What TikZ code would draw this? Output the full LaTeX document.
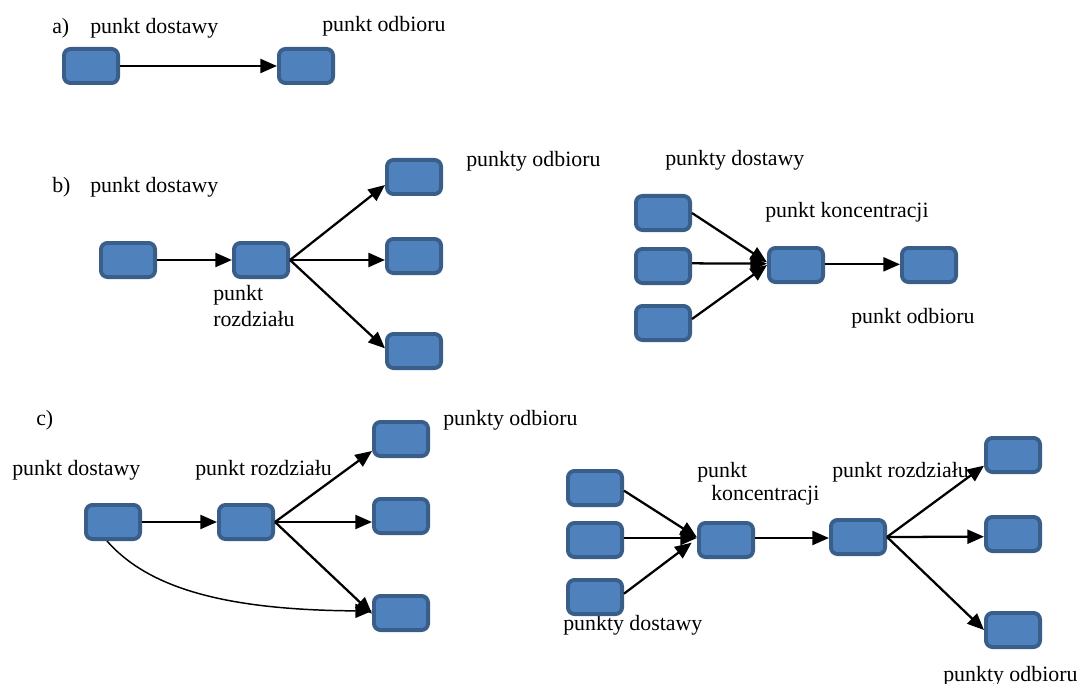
\documentclass[tikz,border=0pt]{standalone}
\usepackage{fontspec}
\setmainfont{Liberation Serif}
\usetikzlibrary{arrows.meta}
\definecolor{boxfill}{RGB}{79,129,189}
\definecolor{boxborder}{RGB}{58,94,138}
\newcommand{\labfont}{\fontsize{16.4}{19}\selectfont}
\tikzset{
  box/.style={draw=boxborder, fill=boxfill, line width=2.9pt, rounded corners=5pt,
    minimum width=40.6pt, minimum height=25.6pt, inner sep=0pt},
  lab/.style={anchor=west, inner sep=0pt, font=\labfont, text=black},
  arr/.style={-{Triangle[length=12.5pt,width=10.5pt]}, line width=1.7pt},
  arrthin/.style={-{Triangle[length=12.5pt,width=10.5pt]}, line width=1.1pt}
}
\begin{document}
\begin{tikzpicture}[x=0.75pt,y=-0.75pt]
\useasboundingbox (0,0) rectangle (1080,684);
% ---- a)
\node[lab] (la) at (52,28) {a)};
\node[lab] (la1) at (90,28) {punkt dostawy};
\node[lab] (la2) at (322,26) {punkt odbioru};
\node[box] (a1) at (91,66) {};
\node[box] (a2) at (306,66) {};
\draw[arr] (a1.east) -- (a2.west);
% ---- b) left
\node[lab] (lb) at (52,187) {b)};
\node[lab] (lb1) at (90,187) {punkt dostawy};
\node[lab] (lb2) at (466,161) {punkty odbioru};
\node[lab, align=left] (lb3) at (213,306) {punkt\\rozdziału};
\node[box] (bs) at (128,260) {};
\node[box] (br) at (261,260) {};
\node[box] (bt1) at (414,177) {};
\node[box] (bt2) at (414,256) {};
\node[box] (bt3) at (414,351) {};
\draw[arr] (bs.east) -- (br.west);
\draw[arr] (br.east) -- ([yshift=-6pt]bt1.west);
\draw[arr] (br.east) -- ([yshift=-3pt]bt2.west);
\draw[arr] (br.east) -- ([yshift=2pt]bt3.west);
% ---- b) right
\node[lab] (lc1) at (665,160) {punkty dostawy};
\node[lab] (lc2) at (765,212) {punkt koncentracji};
\node[lab] (lc3) at (851,318) {punkt odbioru};
\node[box] (cs1) at (663,213) {};
\node[box] (cs2) at (663,266) {};
\node[box] (cs3) at (663,323) {};
\node[box] (cc) at (796,265) {};
\node[box] (ct) at (929,265) {};
\draw[arr] (cs1.east) -- ([yshift=2pt]cc.west);
\draw[arr] ([yshift=2pt]cs2.east) -- ([yshift=1pt]cc.west);
\draw[arr] ([yshift=3pt]cs3.east) -- ([yshift=0pt]cc.west);
\draw[arr] ([yshift=0.5pt]cc.east) -- ([yshift=0.5pt]ct.west);
% ---- c) left
\node[lab] (ld) at (36,420) {c)};
\node[lab] (ld1) at (12,470) {punkt dostawy};
\node[lab] (ld2) at (195,470) {punkt rozdziału};
\node[lab] (ld3) at (443,420) {punkty odbioru};
\node[box] (ds) at (113,522) {};
\node[box] (dr) at (246,522) {};
\node[box] (dt1) at (401,439) {};
\node[box] (dt2) at (401,516) {};
\node[box] (dt3) at (401,613) {};
\draw[arr] (ds.east) -- (dr.west);
\draw[arr] (dr.east) -- ([yshift=-9pt]dt1.west);
\draw[arr] (dr.east) -- ([yshift=-4.5pt]dt2.west);
\draw[arr] (dr.east) -- ([yshift=-0.5pt]dt3.west);
\draw[arrthin] ([xshift=-4.5pt]ds.south) .. controls (150,590) and (230,610) .. ([yshift=1.5pt]dt3.west);
% ---- c) right
\node[lab] (le1) at (697,472) {punkt};
\node[lab] (le2) at (711,495) {koncentracji};
\node[lab] (le3) at (832,472) {punkt rozdziału};
\node[lab] (le4) at (563,625) {punkty dostawy};
\node[lab] (le5) at (943,676) {punkty odbioru};
\node[box] (es1) at (595,488) {};
\node[box] (es2) at (595,540) {};
\node[box] (es3) at (595,597) {};
\node[box] (ec) at (726,540) {};
\node[box] (er) at (858,537) {};
\node[box] (et1) at (1013,455) {};
\node[box] (et2) at (1013,534) {};
\node[box] (et3) at (1013,630) {};
\draw[arr] ([yshift=-2pt]es1.east) -- ([yshift=2pt]ec.west);
\draw[arr] ([yshift=1.5pt]es2.east) -- ([yshift=1.5pt]ec.west);
\draw[arr] ([yshift=2.5pt]es3.east) -- ([xshift=-4pt,yshift=-2pt]ec.west);
\draw[arr] ([yshift=1.5pt]ec.east) -- ([yshift=-0.75pt]er.west);
\draw[arr] (er.east) -- ([yshift=-8pt]et1.west);
\draw[arr] (er.east) -- ([yshift=-2pt]et2.west);
\draw[arr] (er.east) -- (et3.west);
\end{tikzpicture}
\end{document}
